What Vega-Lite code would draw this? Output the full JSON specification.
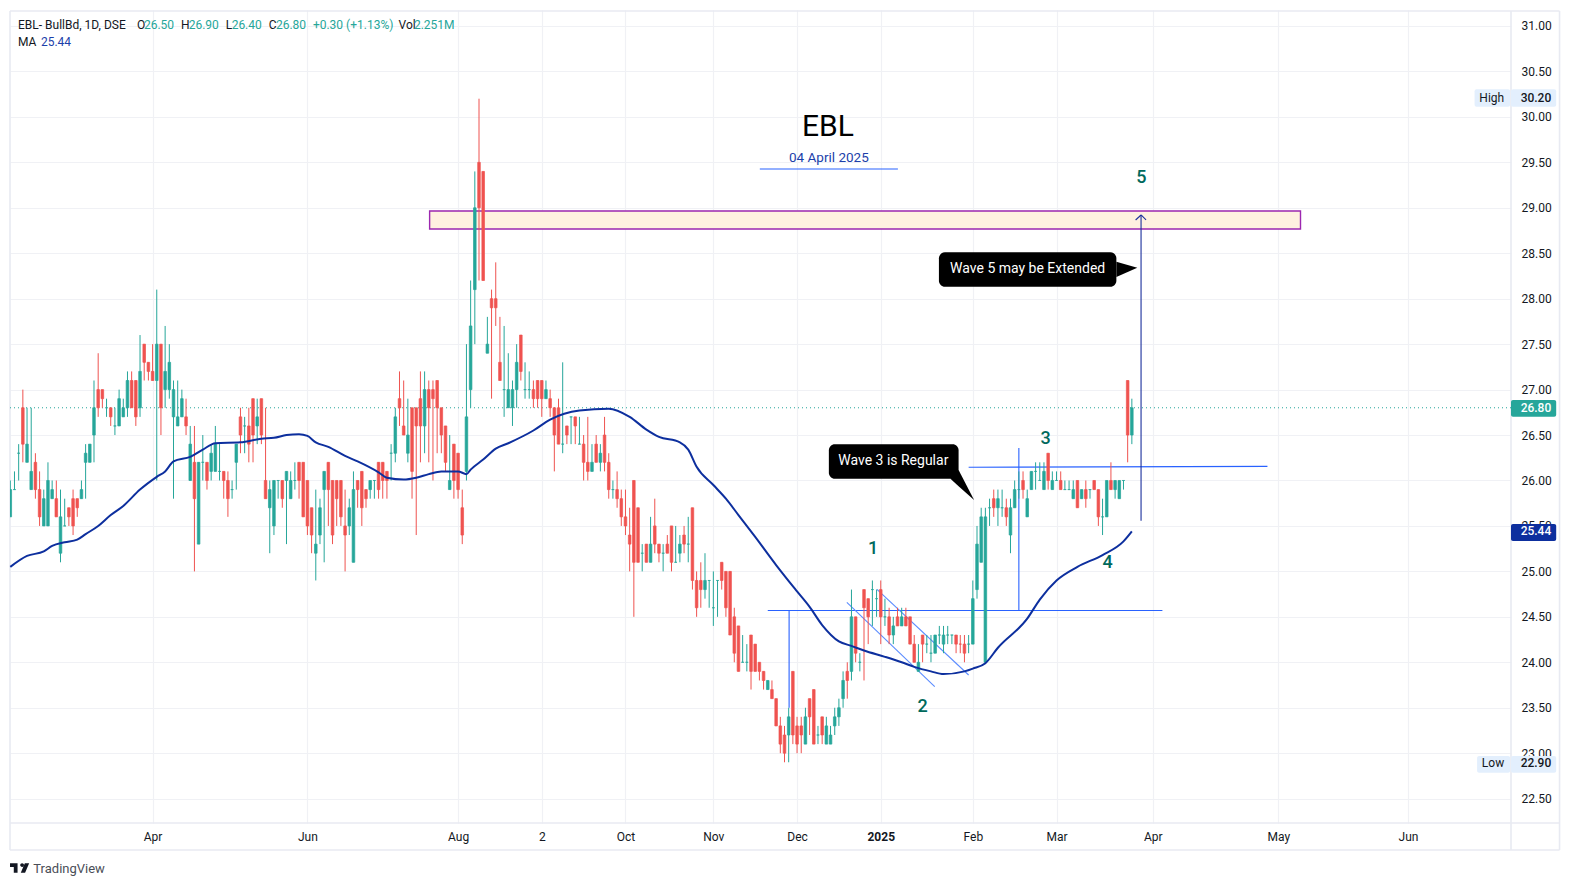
{
  "$schema": "https://vega.github.io/schema/vega-lite/v6.json",
  "description": "EBL daily candles with 50 bar MA and wave count",
  "width": 1501,
  "height": 813,
  "padding": {"left": 10, "top": 10, "right": 60, "bottom": 63},
  "autosize": {"type": "none"},
  "background": "#ffffff",
  "datasets": {
    "candles": [
      {"bar":0,"o":25.6,"h":26,"l":25.6,"c":25.9,"dir":"up"},{"bar":1,"o":25.9,"h":26.1,"l":25.9,"c":25.9,"dir":"up"},{"bar":2,"o":26.3,"h":26.4,"l":26,"c":26.3,"dir":"up"},{"bar":3,"o":26.8,"h":27,"l":26.2,"c":26.4,"dir":"down"},{"bar":4,"o":26.2,"h":26.8,"l":26.2,"c":26.4,"dir":"up"},
      {"bar":5,"o":25.9,"h":26.8,"l":25.9,"c":26.1,"dir":"up"},{"bar":6,"o":26.2,"h":26.3,"l":25.8,"c":25.9,"dir":"down"},{"bar":7,"o":25.9,"h":26.1,"l":25.5,"c":25.6,"dir":"down"},{"bar":8,"o":25.5,"h":25.9,"l":25.5,"c":25.8,"dir":"up"},{"bar":9,"o":25.5,"h":26.2,"l":25.5,"c":26,"dir":"up"},
      {"bar":10,"o":25.8,"h":26,"l":25.8,"c":25.9,"dir":"up"},{"bar":11,"o":25.8,"h":26,"l":25.6,"c":25.6,"dir":"down"},{"bar":12,"o":25.2,"h":25.9,"l":25.1,"c":25.6,"dir":"up"},{"bar":13,"o":25.5,"h":25.8,"l":25.5,"c":25.5,"dir":"up"},{"bar":14,"o":25.7,"h":25.7,"l":25.5,"c":25.6,"dir":"down"},
      {"bar":15,"o":25.8,"h":25.9,"l":25.4,"c":25.5,"dir":"down"},{"bar":16,"o":25.8,"h":25.8,"l":25.6,"c":25.7,"dir":"down"},{"bar":17,"o":25.8,"h":26,"l":25.8,"c":25.9,"dir":"up"},{"bar":18,"o":26.2,"h":26.4,"l":25.8,"c":26.3,"dir":"up"},{"bar":19,"o":26.2,"h":26.4,"l":26.2,"c":26.4,"dir":"up"},
      {"bar":20,"o":26.5,"h":27.1,"l":26.2,"c":26.8,"dir":"up"},{"bar":21,"o":27,"h":27.4,"l":26.7,"c":26.8,"dir":"down"},{"bar":22,"o":27,"h":27,"l":26.8,"c":26.9,"dir":"down"},{"bar":23,"o":26.8,"h":26.9,"l":26.7,"c":26.8,"dir":"up"},{"bar":24,"o":26.8,"h":26.8,"l":26.6,"c":26.7,"dir":"down"},
      {"bar":25,"o":26.6,"h":26.8,"l":26.5,"c":26.6,"dir":"up"},{"bar":26,"o":26.6,"h":27,"l":26.6,"c":26.9,"dir":"up"},{"bar":27,"o":26.7,"h":26.9,"l":26.7,"c":26.8,"dir":"up"},{"bar":28,"o":26.8,"h":27.2,"l":26.7,"c":27.1,"dir":"up"},{"bar":29,"o":27.1,"h":27.2,"l":26.8,"c":26.8,"dir":"down"},
      {"bar":30,"o":27.1,"h":27.1,"l":26.6,"c":26.7,"dir":"down"},{"bar":31,"o":26.8,"h":27.6,"l":26.7,"c":27.2,"dir":"up"},{"bar":32,"o":27.5,"h":27.5,"l":27.1,"c":27.3,"dir":"down"},{"bar":33,"o":27.3,"h":27.3,"l":27.1,"c":27.2,"dir":"down"},{"bar":34,"o":27.2,"h":27.5,"l":27.1,"c":27.1,"dir":"down"},
      {"bar":35,"o":27.1,"h":28.1,"l":26,"c":27.5,"dir":"up"},{"bar":36,"o":27.5,"h":27.5,"l":26.5,"c":26.8,"dir":"down"},{"bar":37,"o":27,"h":27.7,"l":26.8,"c":27.2,"dir":"up"},{"bar":38,"o":27,"h":27.5,"l":26.9,"c":27.3,"dir":"up"},{"bar":39,"o":26.7,"h":27.1,"l":25.8,"c":27,"dir":"up"},
      {"bar":40,"o":26.6,"h":27.1,"l":26.6,"c":26.7,"dir":"up"},{"bar":41,"o":26.7,"h":27,"l":26.7,"c":26.9,"dir":"up"},{"bar":42,"o":26.7,"h":26.9,"l":26.5,"c":26.6,"dir":"down"},{"bar":43,"o":26,"h":26.6,"l":26,"c":26.4,"dir":"up"},{"bar":44,"o":26.2,"h":26.6,"l":25,"c":25.8,"dir":"down"},
      {"bar":45,"o":25.3,"h":26.2,"l":25.3,"c":26.2,"dir":"up"},{"bar":46,"o":26.2,"h":26.5,"l":26,"c":26.2,"dir":"up"},{"bar":47,"o":26.2,"h":26.2,"l":25.9,"c":26,"dir":"down"},{"bar":48,"o":26.1,"h":26.4,"l":26,"c":26.3,"dir":"up"},{"bar":49,"o":26.1,"h":26.6,"l":26.1,"c":26.4,"dir":"up"},
      {"bar":50,"o":26.1,"h":26.4,"l":26,"c":26.1,"dir":"up"},{"bar":51,"o":26.1,"h":26.1,"l":25.8,"c":26,"dir":"down"},{"bar":52,"o":26,"h":26.1,"l":25.6,"c":25.8,"dir":"down"},{"bar":53,"o":25.9,"h":26,"l":25.8,"c":25.9,"dir":"up"},{"bar":54,"o":26.2,"h":26.4,"l":25.9,"c":26.4,"dir":"up"},
      {"bar":55,"o":26.7,"h":26.8,"l":26.3,"c":26.5,"dir":"down"},{"bar":56,"o":26.6,"h":26.7,"l":26.3,"c":26.6,"dir":"up"},{"bar":57,"o":26.6,"h":26.8,"l":26.2,"c":26.4,"dir":"down"},{"bar":58,"o":26.9,"h":26.9,"l":26.2,"c":26.5,"dir":"down"},{"bar":59,"o":26.6,"h":26.9,"l":26.4,"c":26.7,"dir":"up"},
      {"bar":60,"o":26.9,"h":26.9,"l":26.4,"c":26.5,"dir":"down"},{"bar":61,"o":26,"h":26.8,"l":25.8,"c":25.8,"dir":"down"},{"bar":62,"o":25.7,"h":26,"l":25.2,"c":25.9,"dir":"up"},{"bar":63,"o":25.5,"h":26,"l":25.4,"c":26,"dir":"up"},{"bar":64,"o":26,"h":26,"l":25.8,"c":26,"dir":"up"},
      {"bar":65,"o":26,"h":26,"l":25.7,"c":25.8,"dir":"down"},{"bar":66,"o":26,"h":26.1,"l":25.3,"c":26.1,"dir":"up"},{"bar":67,"o":25.8,"h":26.1,"l":25.8,"c":26,"dir":"up"},{"bar":68,"o":26,"h":26.2,"l":25.9,"c":26,"dir":"up"},{"bar":69,"o":26.2,"h":26.2,"l":25.8,"c":26,"dir":"down"},
      {"bar":70,"o":26.2,"h":26.2,"l":25.6,"c":25.6,"dir":"down"},{"bar":71,"o":26,"h":26,"l":25.4,"c":25.5,"dir":"down"},{"bar":72,"o":25.7,"h":25.7,"l":25.2,"c":25.4,"dir":"down"},{"bar":73,"o":25.2,"h":25.9,"l":24.9,"c":25.3,"dir":"up"},{"bar":74,"o":25.4,"h":25.8,"l":25.3,"c":25.7,"dir":"up"},
      {"bar":75,"o":25.9,"h":26.1,"l":25.1,"c":26.1,"dir":"up"},{"bar":76,"o":26.2,"h":26.2,"l":25.5,"c":25.9,"dir":"down"},{"bar":77,"o":26,"h":26,"l":25.3,"c":25.4,"dir":"down"},{"bar":78,"o":26,"h":26,"l":25.5,"c":25.8,"dir":"down"},{"bar":79,"o":26,"h":26,"l":25.5,"c":25.6,"dir":"down"},
      {"bar":80,"o":25.5,"h":25.9,"l":25,"c":25.4,"dir":"down"},{"bar":81,"o":25.5,"h":25.8,"l":25.4,"c":25.7,"dir":"up"},{"bar":82,"o":25.1,"h":26.1,"l":25.1,"c":25.9,"dir":"up"},{"bar":83,"o":26,"h":26,"l":25.7,"c":25.9,"dir":"down"},{"bar":84,"o":26.1,"h":26.1,"l":25.5,"c":25.7,"dir":"down"},
      {"bar":85,"o":25.9,"h":25.9,"l":25.7,"c":25.8,"dir":"down"},{"bar":86,"o":25.9,"h":26,"l":25.8,"c":26,"dir":"up"},{"bar":87,"o":26,"h":26,"l":25.8,"c":26,"dir":"up"},{"bar":88,"o":26.2,"h":26.2,"l":25.8,"c":25.9,"dir":"down"},{"bar":89,"o":26.2,"h":26.2,"l":25.8,"c":26,"dir":"down"},
      {"bar":90,"o":26.1,"h":26.1,"l":25.8,"c":26,"dir":"down"},{"bar":91,"o":26.3,"h":26.4,"l":26,"c":26.3,"dir":"up"},{"bar":92,"o":26.3,"h":26.8,"l":26.2,"c":26.7,"dir":"up"},{"bar":93,"o":26.9,"h":27.2,"l":26.6,"c":26.8,"dir":"down"},{"bar":94,"o":26.6,"h":27.1,"l":26.5,"c":26.5,"dir":"down"},
      {"bar":95,"o":26.3,"h":26.9,"l":26.2,"c":26.5,"dir":"up"},{"bar":96,"o":26.8,"h":26.8,"l":25.8,"c":26.1,"dir":"down"},{"bar":97,"o":26.8,"h":26.8,"l":25.4,"c":26.6,"dir":"down"},{"bar":98,"o":26.9,"h":27.2,"l":26.2,"c":26.6,"dir":"down"},{"bar":99,"o":26.6,"h":27.2,"l":26.3,"c":27,"dir":"up"},
      {"bar":100,"o":27,"h":27.1,"l":26.2,"c":26.8,"dir":"down"},{"bar":101,"o":27,"h":27.1,"l":26,"c":26.9,"dir":"down"},{"bar":102,"o":27.1,"h":27.1,"l":26.3,"c":26.8,"dir":"down"},{"bar":103,"o":26.8,"h":26.8,"l":26.3,"c":26.5,"dir":"down"},{"bar":104,"o":26.6,"h":26.6,"l":26.1,"c":26.2,"dir":"down"},
      {"bar":105,"o":25.9,"h":26.5,"l":25.9,"c":26,"dir":"up"},{"bar":106,"o":26.4,"h":26.4,"l":25.8,"c":26,"dir":"down"},{"bar":107,"o":26.3,"h":26.3,"l":25.8,"c":25.9,"dir":"down"},{"bar":108,"o":25.7,"h":25.9,"l":25.3,"c":25.4,"dir":"down"},{"bar":109,"o":26.1,"h":27.5,"l":26,"c":26.7,"dir":"up"},
      {"bar":110,"o":27,"h":28.2,"l":26.8,"c":27.7,"dir":"up"},{"bar":111,"o":28.1,"h":29.4,"l":27.5,"c":29,"dir":"up"},{"bar":112,"o":29.5,"h":30.2,"l":28.2,"c":29,"dir":"down"},{"bar":113,"o":29.4,"h":29.4,"l":28.2,"c":28.2,"dir":"down"},{"bar":114,"o":27.4,"h":27.8,"l":27.4,"c":27.5,"dir":"up"},
      {"bar":115,"o":28,"h":28.1,"l":26.9,"c":27.9,"dir":"down"},{"bar":116,"o":28,"h":28.4,"l":27.7,"c":27.9,"dir":"down"},{"bar":117,"o":27.3,"h":27.8,"l":27.1,"c":27.1,"dir":"down"},{"bar":118,"o":27,"h":27.7,"l":26.7,"c":27,"dir":"up"},{"bar":119,"o":26.8,"h":27.4,"l":26.8,"c":27,"dir":"up"},
      {"bar":120,"o":26.8,"h":27.1,"l":26.6,"c":27,"dir":"up"},{"bar":121,"o":27,"h":27.5,"l":26.8,"c":27.3,"dir":"up"},{"bar":122,"o":27.6,"h":27.6,"l":27.1,"c":27.2,"dir":"down"},{"bar":123,"o":27,"h":27.3,"l":26.9,"c":27,"dir":"up"},{"bar":124,"o":27,"h":27.2,"l":26.9,"c":27,"dir":"up"},
      {"bar":125,"o":27,"h":27.1,"l":26.8,"c":26.9,"dir":"down"},{"bar":126,"o":27.1,"h":27.1,"l":26.8,"c":26.9,"dir":"down"},{"bar":127,"o":27.1,"h":27.1,"l":26.7,"c":26.9,"dir":"down"},{"bar":128,"o":26.9,"h":27.1,"l":26.9,"c":27,"dir":"up"},{"bar":129,"o":26.9,"h":27,"l":26.7,"c":26.8,"dir":"down"},
      {"bar":130,"o":26.8,"h":26.8,"l":26.1,"c":26.5,"dir":"down"},{"bar":131,"o":26.8,"h":26.9,"l":26.4,"c":26.4,"dir":"down"},{"bar":132,"o":26.4,"h":27.3,"l":26.3,"c":26.4,"dir":"up"},{"bar":133,"o":26.6,"h":26.6,"l":26.4,"c":26.5,"dir":"down"},{"bar":134,"o":26.7,"h":26.7,"l":26.4,"c":26.7,"dir":"up"},
      {"bar":135,"o":26.7,"h":26.7,"l":26.4,"c":26.6,"dir":"down"},{"bar":136,"o":26.4,"h":26.7,"l":26.4,"c":26.4,"dir":"up"},{"bar":137,"o":26.4,"h":26.5,"l":26,"c":26.2,"dir":"down"},{"bar":138,"o":26.2,"h":26.7,"l":26,"c":26.1,"dir":"down"},{"bar":139,"o":26.1,"h":26.4,"l":26.1,"c":26.2,"dir":"up"},
      {"bar":140,"o":26.4,"h":26.5,"l":26.2,"c":26.2,"dir":"down"},{"bar":141,"o":26.2,"h":26.4,"l":26.1,"c":26.3,"dir":"up"},{"bar":142,"o":26.5,"h":26.7,"l":26.1,"c":26.2,"dir":"down"},{"bar":143,"o":26.2,"h":26.3,"l":25.8,"c":25.9,"dir":"down"},{"bar":144,"o":25.9,"h":26,"l":25.8,"c":25.9,"dir":"up"},
      {"bar":145,"o":25.9,"h":26.1,"l":25.7,"c":25.8,"dir":"down"},{"bar":146,"o":25.8,"h":25.9,"l":25.5,"c":25.6,"dir":"down"},{"bar":147,"o":25.6,"h":25.9,"l":25.4,"c":25.5,"dir":"down"},{"bar":148,"o":25.4,"h":25.7,"l":25,"c":25.3,"dir":"down"},{"bar":149,"o":26,"h":26,"l":24.5,"c":25.1,"dir":"down"},
      {"bar":150,"o":25.7,"h":25.7,"l":25.1,"c":25.1,"dir":"down"},{"bar":151,"o":25.2,"h":25.3,"l":25,"c":25.2,"dir":"up"},{"bar":152,"o":25.3,"h":25.3,"l":25.1,"c":25.1,"dir":"down"},{"bar":153,"o":25.1,"h":25.6,"l":25.1,"c":25.3,"dir":"up"},{"bar":154,"o":25.5,"h":25.8,"l":25.2,"c":25.3,"dir":"down"},
      {"bar":155,"o":25.3,"h":25.3,"l":25.1,"c":25.2,"dir":"down"},{"bar":156,"o":25.2,"h":25.3,"l":25,"c":25.2,"dir":"up"},{"bar":157,"o":25.3,"h":25.4,"l":25.2,"c":25.2,"dir":"down"},{"bar":158,"o":25.5,"h":25.5,"l":25,"c":25.1,"dir":"down"},{"bar":159,"o":25.1,"h":25.5,"l":25.1,"c":25.1,"dir":"up"},
      {"bar":160,"o":25.2,"h":25.4,"l":25.1,"c":25.3,"dir":"up"},{"bar":161,"o":25.4,"h":25.5,"l":25.2,"c":25.3,"dir":"down"},{"bar":162,"o":25.3,"h":25.6,"l":25.1,"c":25.3,"dir":"up"},{"bar":163,"o":25.7,"h":25.7,"l":24.8,"c":24.9,"dir":"down"},{"bar":164,"o":24.9,"h":25,"l":24.5,"c":24.6,"dir":"down"},
      {"bar":165,"o":24.9,"h":25.1,"l":24.6,"c":24.8,"dir":"down"},{"bar":166,"o":24.8,"h":25.2,"l":24.7,"c":24.9,"dir":"up"},{"bar":167,"o":24.9,"h":24.9,"l":24.6,"c":24.9,"dir":"up"},{"bar":168,"o":24.6,"h":25,"l":24.4,"c":24.6,"dir":"up"},{"bar":169,"o":24.9,"h":24.9,"l":24.5,"c":24.9,"dir":"up"},
      {"bar":170,"o":25.1,"h":25.1,"l":24.8,"c":24.9,"dir":"down"},{"bar":171,"o":25,"h":25,"l":24.5,"c":24.6,"dir":"down"},{"bar":172,"o":25,"h":25,"l":24.3,"c":24.3,"dir":"down"},{"bar":173,"o":24.5,"h":24.6,"l":24,"c":24.1,"dir":"down"},{"bar":174,"o":24.4,"h":24.4,"l":23.9,"c":23.9,"dir":"down"},
      {"bar":175,"o":24,"h":24.3,"l":24,"c":24,"dir":"up"},{"bar":176,"o":24,"h":24.2,"l":23.9,"c":24,"dir":"up"},{"bar":177,"o":24.3,"h":24.3,"l":23.7,"c":23.9,"dir":"down"},{"bar":178,"o":24.2,"h":24.2,"l":23.9,"c":23.9,"dir":"down"},{"bar":179,"o":24,"h":24,"l":23.8,"c":23.9,"dir":"down"},
      {"bar":180,"o":23.9,"h":23.9,"l":23.7,"c":23.8,"dir":"down"},{"bar":181,"o":23.7,"h":23.8,"l":23.7,"c":23.8,"dir":"up"},{"bar":182,"o":23.7,"h":23.8,"l":23.6,"c":23.6,"dir":"down"},{"bar":183,"o":23.6,"h":23.6,"l":23.3,"c":23.3,"dir":"down"},{"bar":184,"o":23.3,"h":23.4,"l":23,"c":23.1,"dir":"down"},
      {"bar":185,"o":23.2,"h":23.3,"l":22.9,"c":23,"dir":"down"},{"bar":186,"o":23.2,"h":23.5,"l":22.9,"c":23.4,"dir":"up"},{"bar":187,"o":23.9,"h":23.9,"l":23.1,"c":23.2,"dir":"down"},{"bar":188,"o":23.3,"h":23.4,"l":23,"c":23.1,"dir":"down"},{"bar":189,"o":23.3,"h":23.4,"l":23,"c":23.2,"dir":"down"},
      {"bar":190,"o":23.1,"h":23.5,"l":23.1,"c":23.4,"dir":"up"},{"bar":191,"o":23.6,"h":23.6,"l":23.2,"c":23.4,"dir":"down"},{"bar":192,"o":23.7,"h":23.7,"l":23.1,"c":23.1,"dir":"down"},{"bar":193,"o":23.2,"h":23.3,"l":23.1,"c":23.2,"dir":"up"},{"bar":194,"o":23.4,"h":23.4,"l":23.1,"c":23.2,"dir":"down"},
      {"bar":195,"o":23.1,"h":23.4,"l":23.1,"c":23.3,"dir":"up"},{"bar":196,"o":23.1,"h":23.3,"l":23.1,"c":23.2,"dir":"up"},{"bar":197,"o":23.3,"h":23.5,"l":23.2,"c":23.4,"dir":"up"},{"bar":198,"o":23.4,"h":23.6,"l":23.3,"c":23.5,"dir":"up"},{"bar":199,"o":23.6,"h":23.9,"l":23.5,"c":23.8,"dir":"up"},
      {"bar":200,"o":23.9,"h":24,"l":23.6,"c":23.8,"dir":"down"},{"bar":201,"o":23.9,"h":24.8,"l":23.8,"c":24.5,"dir":"up"},{"bar":202,"o":24.5,"h":24.5,"l":24,"c":24.1,"dir":"down"},{"bar":203,"o":24,"h":24.1,"l":23.9,"c":24,"dir":"up"},{"bar":204,"o":24.8,"h":24.8,"l":23.8,"c":24.6,"dir":"down"},
      {"bar":205,"o":24.7,"h":24.7,"l":24.2,"c":24.5,"dir":"down"},{"bar":206,"o":24.8,"h":24.9,"l":24.4,"c":24.8,"dir":"up"},{"bar":207,"o":24.7,"h":24.8,"l":24.5,"c":24.7,"dir":"up"},{"bar":208,"o":24.8,"h":24.9,"l":24.2,"c":24.5,"dir":"down"},{"bar":209,"o":24.5,"h":24.7,"l":24.4,"c":24.5,"dir":"up"},
      {"bar":210,"o":24.5,"h":24.6,"l":24.2,"c":24.3,"dir":"down"},{"bar":211,"o":24.3,"h":24.5,"l":24.2,"c":24.4,"dir":"up"},{"bar":212,"o":24.5,"h":24.6,"l":24.4,"c":24.4,"dir":"down"},{"bar":213,"o":24.4,"h":24.6,"l":24.4,"c":24.5,"dir":"up"},{"bar":214,"o":24.5,"h":24.6,"l":24.4,"c":24.4,"dir":"down"},
      {"bar":215,"o":24.5,"h":24.5,"l":24.2,"c":24.2,"dir":"down"},{"bar":216,"o":24.2,"h":24.3,"l":24,"c":24,"dir":"down"},{"bar":217,"o":23.9,"h":24.2,"l":23.9,"c":24,"dir":"up"},{"bar":218,"o":24.3,"h":24.3,"l":24,"c":24.2,"dir":"down"},{"bar":219,"o":24.2,"h":24.3,"l":24.1,"c":24.2,"dir":"up"},
      {"bar":220,"o":24.1,"h":24.3,"l":24,"c":24.1,"dir":"up"},{"bar":221,"o":24.1,"h":24.3,"l":24.1,"c":24.3,"dir":"up"},{"bar":222,"o":24.3,"h":24.4,"l":24.2,"c":24.3,"dir":"up"},{"bar":223,"o":24.2,"h":24.4,"l":24.1,"c":24.3,"dir":"up"},{"bar":224,"o":24.3,"h":24.4,"l":24.2,"c":24.3,"dir":"up"},
      {"bar":225,"o":24.3,"h":24.3,"l":24.2,"c":24.3,"dir":"up"},{"bar":226,"o":24.3,"h":24.3,"l":24.1,"c":24.2,"dir":"down"},{"bar":227,"o":24.2,"h":24.3,"l":24.1,"c":24.2,"dir":"down"},{"bar":228,"o":24.2,"h":24.3,"l":24,"c":24.1,"dir":"down"},{"bar":229,"o":24.2,"h":24.3,"l":24.1,"c":24.2,"dir":"up"},
      {"bar":230,"o":24.2,"h":24.9,"l":24.2,"c":24.7,"dir":"up"},{"bar":231,"o":24.8,"h":25.5,"l":24.7,"c":25.3,"dir":"up"},{"bar":232,"o":25.1,"h":25.7,"l":25.1,"c":25.6,"dir":"up"},{"bar":233,"o":24,"h":25.7,"l":24,"c":25.6,"dir":"up"},{"bar":234,"o":25.7,"h":25.8,"l":25.5,"c":25.7,"dir":"up"},
      {"bar":235,"o":25.8,"h":25.9,"l":25.6,"c":25.7,"dir":"down"},{"bar":236,"o":25.7,"h":25.9,"l":25.5,"c":25.8,"dir":"up"},{"bar":237,"o":25.7,"h":25.9,"l":25.6,"c":25.7,"dir":"up"},{"bar":238,"o":25.7,"h":25.8,"l":25.5,"c":25.6,"dir":"down"},{"bar":239,"o":25.4,"h":25.8,"l":25.2,"c":25.7,"dir":"up"},
      {"bar":240,"o":25.7,"h":26,"l":25.7,"c":25.9,"dir":"up"},{"bar":241,"o":25.9,"h":26.1,"l":25.8,"c":25.9,"dir":"up"},{"bar":242,"o":26,"h":26.1,"l":25.8,"c":25.9,"dir":"down"},{"bar":243,"o":25.6,"h":25.9,"l":25.6,"c":25.8,"dir":"up"},{"bar":244,"o":25.9,"h":26.1,"l":25.9,"c":26.1,"dir":"up"},
      {"bar":245,"o":26.1,"h":26.2,"l":25.9,"c":26.1,"dir":"up"},{"bar":246,"o":26,"h":26.2,"l":26,"c":26,"dir":"up"},{"bar":247,"o":25.9,"h":26.2,"l":25.9,"c":26.1,"dir":"up"},{"bar":248,"o":26.3,"h":26.3,"l":25.9,"c":26,"dir":"down"},{"bar":249,"o":25.9,"h":26.1,"l":25.9,"c":26,"dir":"up"},
      {"bar":250,"o":26,"h":26.1,"l":26,"c":26,"dir":"up"},{"bar":251,"o":26,"h":26.1,"l":25.9,"c":25.9,"dir":"down"},{"bar":252,"o":25.9,"h":26,"l":25.9,"c":25.9,"dir":"up"},{"bar":253,"o":25.9,"h":26,"l":25.9,"c":25.9,"dir":"up"},{"bar":254,"o":25.8,"h":26,"l":25.8,"c":25.9,"dir":"up"},
      {"bar":255,"o":26,"h":26,"l":25.7,"c":25.7,"dir":"down"},{"bar":256,"o":25.8,"h":25.9,"l":25.8,"c":25.9,"dir":"up"},{"bar":257,"o":25.9,"h":26,"l":25.7,"c":25.8,"dir":"down"},{"bar":258,"o":25.9,"h":25.9,"l":25.8,"c":25.9,"dir":"up"},{"bar":259,"o":26,"h":26,"l":25.9,"c":25.9,"dir":"down"},
      {"bar":260,"o":25.9,"h":25.9,"l":25.5,"c":25.6,"dir":"down"},{"bar":261,"o":25.6,"h":25.8,"l":25.4,"c":25.6,"dir":"up"},{"bar":262,"o":25.6,"h":26,"l":25.6,"c":26,"dir":"up"},{"bar":263,"o":26,"h":26.2,"l":25.9,"c":25.9,"dir":"down"},{"bar":264,"o":25.9,"h":26,"l":25.8,"c":26,"dir":"up"},
      {"bar":265,"o":25.8,"h":26,"l":25.8,"c":26,"dir":"up"},{"bar":266,"o":26,"h":26,"l":25.9,"c":26,"dir":"up"},{"bar":267,"o":27.1,"h":27.1,"l":26.2,"c":26.5,"dir":"down"},{"bar":268,"o":26.5,"h":26.9,"l":26.4,"c":26.8,"dir":"up"}
    ],
    "ma": [
      {"bar":0,"price":25.05},{"bar":4,"price":25.17},{"bar":8,"price":25.22},{"bar":10,"price":25.28},{"bar":13,"price":25.32},{"bar":16,"price":25.35},{"bar":18,"price":25.41},{"bar":21,"price":25.5},{"bar":24,"price":25.62},{"bar":27,"price":25.72},{"bar":31,"price":25.9},{"bar":35,"price":26.04},{"bar":37,"price":26.1},{"bar":39,"price":26.21},{"bar":43,"price":26.26},{"bar":46,"price":26.34},{"bar":49,"price":26.41},{"bar":55,"price":26.42},{"bar":60,"price":26.46},{"bar":63,"price":26.47},{"bar":66,"price":26.5},{"bar":69,"price":26.51},{"bar":71,"price":26.49},{"bar":73,"price":26.42},{"bar":76,"price":26.37},{"bar":80,"price":26.27},{"bar":83,"price":26.21},{"bar":88,"price":26.09},{"bar":90,"price":26.03},{"bar":94,"price":26.01},{"bar":97,"price":26.03},{"bar":100,"price":26.07},{"bar":103,"price":26.1},{"bar":107,"price":26.1},{"bar":109,"price":26.07},{"bar":110,"price":26.12},{"bar":113,"price":26.23},{"bar":116,"price":26.35},{"bar":119,"price":26.41},{"bar":125,"price":26.55},{"bar":129,"price":26.67},{"bar":136,"price":26.77},{"bar":143,"price":26.79},{"bar":148,"price":26.7},{"bar":152,"price":26.56},{"bar":155,"price":26.48},{"bar":160,"price":26.42},{"bar":162,"price":26.34},{"bar":164,"price":26.15},{"bar":168,"price":25.95},{"bar":171,"price":25.8},{"bar":174,"price":25.62},{"bar":178,"price":25.38},{"bar":183,"price":25.07},{"bar":188,"price":24.78},{"bar":191,"price":24.61},{"bar":194,"price":24.41},{"bar":198,"price":24.23},{"bar":201,"price":24.18},{"bar":204,"price":24.13},{"bar":209,"price":24.06},{"bar":213,"price":24},{"bar":216,"price":23.95},{"bar":220,"price":23.9},{"bar":223,"price":23.87},{"bar":228,"price":23.9},{"bar":230,"price":23.93},{"bar":233,"price":23.99},{"bar":236,"price":24.16},{"bar":243,"price":24.48},{"bar":246,"price":24.69},{"bar":250,"price":24.9},{"bar":255,"price":25.05},{"bar":261,"price":25.18},{"bar":266,"price":25.33},{"bar":268,"price":25.44}
    ],
    "drawn": [
      {"bar":181,"price":24.57,"bar2":275.3,"price2":24.57,"kind":"level"},
      {"bar":186.1,"price":24.57,"bar2":186.1,"price2":23.5,"kind":"level"},
      {"bar":241,"price":26.358,"bar2":241,"price2":24.57,"kind":"level"},
      {"bar":229,"price":26.145,"bar2":300.4,"price2":26.155,"kind":"level"},
      {"bar":179.1,"price":29.427,"bar2":212.1,"price2":29.427,"kind":"level"},
      {"bar":199.9,"price":24.66,"bar2":220.9,"price2":23.732,"kind":"channel"},
      {"bar":207.1,"price":24.803,"bar2":229,"price2":23.86,"kind":"channel"},
      {"bar":270.2,"price":28.921,"bar2":270.2,"price2":25.558,"kind":"arrow"},
      {"bar":270.2,"price":28.921,"bar2":268.9,"price2":28.866,"kind":"arrow"},
      {"bar":270.2,"price":28.921,"bar2":271.4,"price2":28.866,"kind":"arrow"}
    ],
    "frame": [
      {"bar":-0.07,"price":31.165,"bar2":370.2,"price2":31.165},
      {"bar":-0.07,"price":21.935,"bar2":370.2,"price2":21.935},
      {"bar":-0.07,"price":31.165,"bar2":-0.07,"price2":21.935},
      {"bar":370.2,"price":31.165,"bar2":370.2,"price2":21.935},
      {"bar":358.6,"price":31.165,"bar2":358.6,"price2":21.935},
      {"bar":-0.07,"price":22.232,"bar2":370.2,"price2":22.232}
    ],
    "callouts": [
      {"bar":221.9,"bar2":264.3,"price":28.51,"price2":28.132},
      {"bar":195.6,"bar2":226.6,"price":26.398,"price2":26.02}
    ],
    "tails": [
      {"tail":"w5","bar":264.3,"price":28.407,"price2":28.239},
      {"tail":"w5","bar":269.3,"price":28.341,"price2":28.341},
      {"tail":"w3","bar":224.65,"price":26.02,"price2":26.02},
      {"tail":"w3","bar":226.6,"price":26.116,"price2":25.937},
      {"tail":"w3","bar":230.3,"price":25.785,"price2":25.785}
    ],
    "badges": [
      {"bar":358.6,"bar2":369.4,"price":26.886,"price2":26.7,"tone":"close"},
      {"bar":358.6,"bar2":369.4,"price":25.522,"price2":25.334,"tone":"ma"},
      {"bar":358.6,"bar2":369.4,"price":30.304,"price2":30.112,"tone":"range"},
      {"bar":349.9,"bar2":358.4,"price":30.304,"price2":30.112,"tone":"range"},
      {"bar":358.6,"bar2":369.4,"price":22.97,"price2":22.786,"tone":"range"},
      {"bar":350.5,"bar2":358.4,"price":22.97,"price2":22.786,"tone":"range"}
    ],
    "legendText": [
      {"bar":1.84,"price":31.006,"text":"EBL- BullBd, 1D, DSE","tone":"ink"},
      {"bar":30.27,"price":31.006,"text":"O","tone":"ink"},
      {"bar":31.94,"price":31.006,"text":"26.50","tone":"up"},
      {"bar":40.78,"price":31.006,"text":"H","tone":"ink"},
      {"bar":42.62,"price":31.006,"text":"26.90","tone":"up"},
      {"bar":51.46,"price":31.006,"text":"L","tone":"ink"},
      {"bar":52.89,"price":31.006,"text":"26.40","tone":"up"},
      {"bar":61.73,"price":31.006,"text":"C","tone":"ink"},
      {"bar":63.47,"price":31.006,"text":"26.80","tone":"up"},
      {"bar":72.31,"price":31.006,"text":"+0.30 (+1.13%)","tone":"up"},
      {"bar":92.78,"price":31.006,"text":"Vol","tone":"ink"},
      {"bar":96.44,"price":31.006,"text":"2.251M","tone":"up"},
      {"bar":1.84,"price":30.819,"text":"MA","tone":"ink"},
      {"bar":7.33,"price":30.819,"text":"25.44","tone":"ma"}
    ],
    "waves": [
      {"bar":206.2,"price":25.251,"text":"1"},
      {"bar":218,"price":23.513,"text":"2"},
      {"bar":247.4,"price":26.451,"text":"3"},
      {"bar":262.2,"price":25.097,"text":"4"},
      {"bar":270.3,"price":29.333,"text":"5"}
    ],
    "badgeText": [
      {"bar":360.9,"price":26.8,"text":"26.80","tone":"light"},
      {"bar":360.9,"price":25.44,"text":"25.44","tone":"light"},
      {"bar":360.9,"price":30.208,"text":"30.20","tone":"dark"},
      {"bar":360.9,"price":22.896,"text":"22.90","tone":"dark"}
    ]
  },
  "encoding": {
    "x": {
      "field": "bar",
      "type": "quantitative",
      "scale": {"domain": [-0.07, 358.6], "nice": false, "zero": false, "padding": 0},
      "axis": {
        "orient": "bottom",
        "title": null,
        "values": [34, 71, 107, 127, 147, 168, 188, 208, 230, 250, 273, 303, 334],
        "labelExpr": "{'34':'Apr','71':'Jun','107':'Aug','127':'2','147':'Oct','168':'Nov','188':'Dec','208':'2025','230':'Feb','250':'Mar','273':'Apr','303':'May','334':'Jun'}[datum.value]",
        "labelFontWeight": {"condition": {"test": "datum.value == 208", "value": "bold"}, "value": "normal"},
        "labelOffset": 0,
        "labelPadding": 8,
        "labelFlush": false,
        "labelOverlap": false,
        "tickSize": 0,
        "ticks": false,
        "domain": false,
        "grid": true,
        "gridColor": "#f0f1f5",
        "gridWidth": 1.2
      }
    },
    "y": {
      "field": "price",
      "type": "quantitative",
      "scale": {"domain": [22.232, 31.176], "nice": false, "zero": false, "padding": 0},
      "axis": {
        "orient": "right",
        "title": null,
        "values": [22.5, 23, 23.5, 24, 24.5, 25, 25.5, 26, 26.5, 27, 27.5, 28, 28.5, 29, 29.5, 30, 30.5, 31],
        "format": ".2f",
        "labelPadding": 10,
        "labelFlush": false,
        "labelOverlap": false,
        "tickSize": 0,
        "ticks": false,
        "domain": false,
        "grid": true,
        "gridColor": "#f0f1f5",
        "gridWidth": 1.2
      }
    }
  },
  "layer": [
    {
      "data": {"name": "frame"},
      "mark": {"type": "rule", "color": "#e8eaf2", "strokeWidth": 1.6},
      "encoding": {"x2": {"field": "bar2"}, "y2": {"field": "price2"}}
    },
    {
      "data": {"values": [{"bar": 100.2, "bar2": 308.3, "price": 28.965, "price2": 28.767}]},
      "mark": {"type": "rect", "fill": "#fff1e0", "stroke": "#9c27b0", "strokeWidth": 1.4},
      "encoding": {"x2": {"field": "bar2"}, "y2": {"field": "price2"}}
    },
    {
      "data": {"values": [{"bar": -0.07, "bar2": 358.6, "price": 26.8}]},
      "mark": {"type": "rule", "color": "#26a69a", "strokeWidth": 1, "strokeDash": [1, 3]},
      "encoding": {"x2": {"field": "bar2"}}
    },
    {
      "data": {"name": "drawn"},
      "mark": {"type": "rule", "strokeWidth": 1.1},
      "encoding": {
        "x2": {"field": "bar2"},
        "y2": {"field": "price2"},
        "color": {
          "field": "kind",
          "type": "nominal",
          "legend": null,
          "scale": {"domain": ["level", "channel", "arrow"], "range": ["#2962ff", "#5b8cff", "#1a2f9c"]}
        }
      }
    },
    {
      "data": {"name": "candles"},
      "mark": {"type": "rule", "strokeWidth": 1, "clip": true},
      "encoding": {
        "y": {"field": "h", "type": "quantitative", "title": null},
        "y2": {"field": "l"},
        "color": {
          "field": "dir",
          "type": "nominal",
          "legend": null,
          "scale": {"domain": ["up", "down"], "range": ["#26a69a", "#ef5350"]}
        }
      }
    },
    {
      "data": {"name": "candles"},
      "mark": {"type": "bar", "width": 2.6, "strokeWidth": 0.7, "clip": true},
      "encoding": {
        "y": {"field": "o", "type": "quantitative", "title": null},
        "y2": {"field": "c"},
        "fill": {
          "field": "dir",
          "type": "nominal",
          "legend": null,
          "scale": {"domain": ["up", "down"], "range": ["#26a69a", "#ef5350"]}
        },
        "stroke": {
          "field": "dir",
          "type": "nominal",
          "legend": null,
          "scale": {"domain": ["up", "down"], "range": ["#26a69a", "#ef5350"]}
        }
      }
    },
    {
      "data": {"name": "ma"},
      "mark": {"type": "line", "color": "#0d2f9e", "strokeWidth": 2, "interpolate": "monotone"}
    },
    {
      "data": {"name": "callouts"},
      "mark": {"type": "rect", "fill": "#000000", "cornerRadius": 6},
      "encoding": {"x2": {"field": "bar2"}, "y2": {"field": "price2"}}
    },
    {
      "data": {"name": "tails"},
      "mark": {"type": "area", "fill": "#000000"},
      "encoding": {"y2": {"field": "price2"}, "detail": {"field": "tail"}}
    },
    {
      "data": {"name": "badges"},
      "mark": {"type": "rect", "cornerRadius": 2},
      "encoding": {
        "x2": {"field": "bar2"},
        "y2": {"field": "price2"},
        "fill": {
          "field": "tone",
          "type": "nominal",
          "legend": null,
          "scale": {"domain": ["close", "ma", "range"], "range": ["#26a69a", "#0d2f9e", "#e3effd"]}
        }
      }
    },
    {
      "data": {"name": "legendText"},
      "mark": {"type": "text", "align": "left", "baseline": "middle", "fontSize": 12},
      "encoding": {
        "text": {"field": "text"},
        "color": {
          "field": "tone",
          "type": "nominal",
          "legend": null,
          "scale": {"domain": ["ink", "up", "ma"], "range": ["#131722", "#26a69a", "#1c3faa"]}
        }
      }
    },
    {
      "data": {"name": "badgeText"},
      "mark": {"type": "text", "align": "left", "baseline": "middle", "fontSize": 12, "fontWeight": 500},
      "encoding": {
        "text": {"field": "text"},
        "color": {
          "field": "tone",
          "type": "nominal",
          "legend": null,
          "scale": {"domain": ["light", "dark"], "range": ["#ffffff", "#131722"]}
        }
      }
    },
    {
      "data": {"values": [
        {"bar": 354, "price": 30.208, "text": "High"},
        {"bar": 354.3, "price": 22.896, "text": "Low"}
      ]},
      "mark": {"type": "text", "align": "center", "baseline": "middle", "fontSize": 12, "color": "#131722"},
      "encoding": {"text": {"field": "text"}}
    },
    {
      "data": {"name": "waves"},
      "mark": {"type": "text", "align": "center", "baseline": "middle", "fontSize": 18, "fontWeight": 500, "color": "#00695c"},
      "encoding": {"text": {"field": "text"}}
    },
    {
      "data": {"values": [{"bar": 195.4, "price": 29.889, "text": "EBL"}]},
      "mark": {"type": "text", "align": "center", "baseline": "middle", "fontSize": 30, "color": "#000000"},
      "encoding": {"text": {"field": "text"}}
    },
    {
      "data": {"values": [{"bar": 195.6, "price": 29.548, "text": "04 April 2025"}]},
      "mark": {"type": "text", "align": "center", "baseline": "middle", "fontSize": 13.5, "color": "#1c3faa"},
      "encoding": {"text": {"field": "text"}}
    },
    {
      "data": {"values": [
        {"bar": 243.1, "price": 28.324, "text": "Wave 5 may be Extended"},
        {"bar": 211, "price": 26.215, "text": "Wave 3 is Regular"}
      ]},
      "mark": {"type": "text", "align": "center", "baseline": "middle", "fontSize": 14, "color": "#ffffff"},
      "encoding": {"text": {"field": "text"}}
    },
    {
      "data": {"values": [{"bar": 2.25, "price": 21.737}]},
      "mark": {
        "type": "point",
        "filled": true,
        "opacity": 1,
        "color": "#131722",
        "size": 376,
        "shape": "M-1 -0.5H-0.222V0.5H-0.611V-0.111H-1ZM0.111 0.5L0.528 -0.5H0.972L0.556 0.5ZM0.05 -0.3a0.2 0.2 0 1 0 0.4 0a0.2 0.2 0 1 0 -0.4 0Z"
      }
    },
    {
      "data": {"values": [{"bar": 5.5, "price": 21.726, "text": "TradingView"}]},
      "mark": {"type": "text", "align": "left", "baseline": "middle", "fontSize": 13, "color": "#4a4e57"},
      "encoding": {"text": {"field": "text"}}
    }
  ],
  "resolve": {"scale": {"color": "independent", "fill": "independent", "stroke": "independent"}},
  "config": {
    "font": "Roboto",
    "view": {"stroke": null},
    "axis": {"labelFontSize": 12, "labelColor": "#131722", "labelFont": "Roboto"}
  }
}
